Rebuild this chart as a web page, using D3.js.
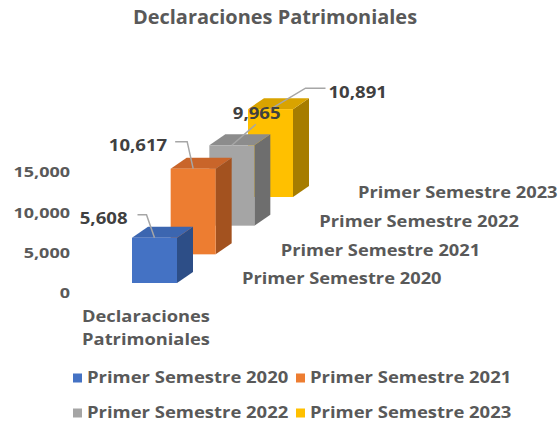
<!DOCTYPE html>
<html>
<head>
<meta charset="utf-8">
<script src="https://cdn.jsdelivr.net/npm/d3@7/dist/d3.min.js"></script>
<style>
  body { margin: 0; background: #fff; }
  text { font-family: "Open Sans", sans-serif; font-weight: 700; }
</style>
</head>
<body>
<div id="canvas"></div>
<script>
// data
var categories = ["Declaraciones Patrimoniales"];
var seriesNames = ["Primer Semestre 2020", "Primer Semestre 2021", "Primer Semestre 2022", "Primer Semestre 2023"];
var values = [5608, 10617, 9965, 10891];
var yTicks = [0, 5000, 10000, 15000];

var W = 559, H = 423;
var colors = ["#4472C4", "#ED7D31", "#A5A5A5", "#FFC000"];
var topColors = ["#3C66B0", "#C9652A", "#8C8C8C", "#D9A300"];
var sideColors = ["#2D4E87", "#A3521F", "#6E6E6E", "#A67C00"];

// the original font is wider, so stretch text a bit
function widen(sel, k){
    sel.each(function(){
        var n = this.getComputedTextLength();
        d3.select(this).attr('textLength', n * k).attr('lengthAdjust', 'spacingAndGlyphs');
    });
}

var svg = d3.select('#canvas').append('svg')
    .attr('width', W)
    .attr('height', H);

// title
var title = svg.append('text')
    .attr('x', 275).attr('y', 24)
    .attr('text-anchor', 'middle')
    .style('font-size', '19px')
    .style('fill', '#595959')
    .text('Declaraciones Patrimoniales');
widen(title, 1.05);

// value axis
var y = d3.scaleLinear().domain([0, 15000]).range([293, 172]);
var axisY = d3.axisLeft(y).tickValues(yTicks).tickFormat(d3.format(',')).tickSize(0).tickPadding(0);
var gAxis = svg.append('g').attr('transform', 'translate(70,0)').call(axisY);
gAxis.select('.domain').remove();
gAxis.selectAll('text')
    .style('font-family', '"Open Sans", sans-serif')
    .style('font-weight', 700)
    .style('font-size', '15px')
    .style('fill', '#595959');
widen(gAxis.selectAll('text'), 1.2);

// series (depth) positions
var idx = d3.range(seriesNames.length);
var depthX = d3.scaleLinear().domain([0, 3]).range([132, 248]);
var depthY = d3.scaleLinear().domain([0, 3]).range([283, 197]);
var band = d3.scaleBand().domain(categories).range([0, 45]);
var dx = 16, dy = -11;

var bars = idx.map(function(i){
    var x0 = depthX(i) + band(categories[0]);
    var base = depthY(i);
    var h = y(0) - y(values[i]);
    return {i: i, x0: x0, x1: x0 + band.bandwidth(), base: base, top: base - h};
});

// draw back to front
var g = svg.append('g');
bars.slice().reverse().forEach(function(b){
    // side
    g.append('path')
        .attr('d', 'M' + b.x1 + ',' + b.top + 'L' + (b.x1 + dx) + ',' + (b.top + dy) +
            'L' + (b.x1 + dx) + ',' + (b.base + dy) + 'L' + b.x1 + ',' + b.base + 'Z')
        .attr('fill', sideColors[b.i]);
    // top
    g.append('path')
        .attr('d', 'M' + b.x0 + ',' + b.top + 'L' + (b.x0 + dx) + ',' + (b.top + dy) +
            'L' + (b.x1 + dx) + ',' + (b.top + dy) + 'L' + b.x1 + ',' + b.top + 'Z')
        .attr('fill', topColors[b.i]);
    // front
    g.append('rect')
        .attr('x', b.x0).attr('y', b.top)
        .attr('width', b.x1 - b.x0).attr('height', b.base - b.top)
        .attr('fill', colors[b.i]);
});

// depth axis labels
var depthLabels = svg.selectAll('.depthLabel')
    .data(idx)
    .enter().append('text')
    .attr('class', 'depthLabel')
    .attr('x', function(i){ return depthX(i) + 110; })
    .attr('y', function(i){ return depthY(i) - 4; })
    .attr('dy', '0.35em')
    .style('font-size', '15.5px')
    .style('fill', '#595959')
    .text(function(i){ return seriesNames[i]; });
widen(depthLabels, 1.18);

// category label (two lines)
var catLines = svg.selectAll('.catLabel')
    .data(['Declaraciones', 'Patrimoniales'])
    .enter().append('text')
    .attr('class', 'catLabel')
    .attr('x', 146)
    .attr('y', function(d, i){ return 322 + i * 23; })
    .attr('text-anchor', 'middle')
    .style('font-size', '15.5px')
    .style('fill', '#595959')
    .text(function(d){ return d; });
widen(catLines, 1.18);

// data labels with leader lines (offsets from bar top-centre)
var labelOff = [
    {tx: -27, ty: -19, anchor: 'end', leader: [[-17, -23], [-8, -23], [0, 0]]},
    {tx: -26, ty: -23, anchor: 'end', leader: [[-18, -27], [-6, -27], [0, 0]]},
    {tx: 1, ty: -32, anchor: 'start', leader: [[0, 0], [24, -21]]},
    {tx: 58, ty: -17, anchor: 'start', leader: [[55, -21], [35, -21], [0, 0]]}
];
var line = d3.line();
bars.forEach(function(b){
    var cx = (b.x0 + b.x1) / 2, ty = b.top;
    var o = labelOff[b.i];
    svg.append('path')
        .attr('d', line(o.leader.map(function(p){ return [cx + p[0], ty + p[1]]; })))
        .attr('fill', 'none')
        .attr('stroke', '#A6A6A6')
        .attr('stroke-width', 1.5);
});
bars.forEach(function(b){
    var cx = (b.x0 + b.x1) / 2, ty = b.top;
    var o = labelOff[b.i];
    var t = svg.append('text')
        .attr('x', cx + o.tx).attr('y', ty + o.ty)
        .attr('dy', '0.35em')
        .attr('text-anchor', o.anchor)
        .style('font-size', '16px')
        .style('fill', '#404040')
        .text(d3.format(',')(values[b.i]));
    widen(t, 1.16);
});

// legend
var legPos = [[73, 378], [296, 378], [73, 413], [296, 413]];
var leg = svg.selectAll('.legend')
    .data(idx)
    .enter().append('g')
    .attr('class', 'legend')
    .attr('transform', function(i){ return 'translate(' + legPos[i][0] + ',' + legPos[i][1] + ')'; });
leg.append('rect')
    .attr('x', 0).attr('y', -4.5)
    .attr('width', 9).attr('height', 9)
    .attr('fill', function(i){ return colors[i]; });
var legText = leg.append('text')
    .attr('x', 14).attr('dy', '0.35em')
    .style('font-size', '15.5px')
    .style('fill', '#595959')
    .text(function(i){ return seriesNames[i]; });
widen(legText, 1.19);
</script>
</body>
</html>
